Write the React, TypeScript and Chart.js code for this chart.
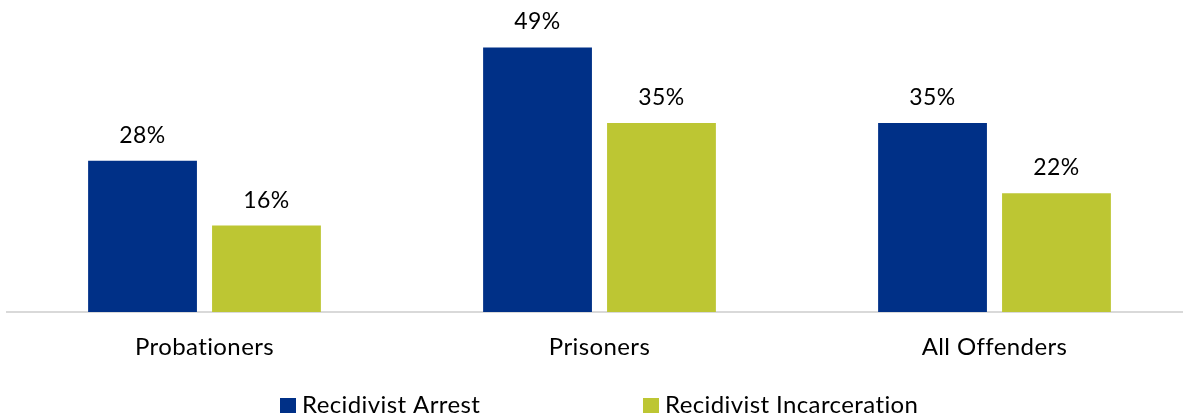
import React, { useEffect, useRef } from "react";
import { Chart, registerables } from "chart.js";

Chart.register(...registerables);

const categories = ["Probationers", "Prisoners", "All Offenders"];
const seriesNames = ["Recidivist Arrest", "Recidivist Incarceration"];
const arrestValues = [28, 49, 35];
const incarcerationValues = [16, 35, 22];
const seriesColors = ["#003087", "#BDC633"];

const FONT = "Lato, 'Open Sans', sans-serif";
const SPACING = "0.4px";

export default function App() {
  const ref = useRef<HTMLCanvasElement | null>(null);

  useEffect(() => {
    document.body.style.margin = "0";
    const canvas = ref.current;
    if (!canvas) return;

    const spacingPlugin = {
      id: "spacing",
      beforeDraw(chart: any) {
        chart.ctx.letterSpacing = SPACING;
      },
    };

    const labelPlugin = {
      id: "valueLabels",
      afterDatasetsDraw(chart: any) {
        const ctx = chart.ctx;
        ctx.save();
        ctx.letterSpacing = SPACING;
        ctx.font = `23px ${FONT}`;
        ctx.fillStyle = "#000000";
        ctx.textAlign = "center";
        ctx.textBaseline = "alphabetic";
        chart.data.datasets.forEach((ds: any, i: number) => {
          const meta = chart.getDatasetMeta(i);
          meta.data.forEach((bar: any, j: number) => {
            ctx.fillText(`${ds.data[j]}%`, bar.x, bar.y - 18);
          });
        });
        ctx.restore();
      },
    };

    const legendPlugin = {
      id: "customLegend",
      afterDraw(chart: any) {
        const ctx = chart.ctx;
        ctx.save();
        ctx.letterSpacing = SPACING;
        ctx.font = `24px ${FONT}`;
        ctx.textBaseline = "alphabetic";
        ctx.textAlign = "left";
        const positions = [280, 643];
        chart.data.datasets.forEach((ds: any, i: number) => {
          const x = positions[i];
          ctx.fillStyle = ds.backgroundColor;
          ctx.fillRect(x, 398, 16, 15);
          ctx.fillStyle = "#000000";
          ctx.fillText(ds.label, x + 22, 413);
        });
        ctx.restore();
      },
    };

    const chart = new Chart(canvas, {
      type: "bar",
      data: {
        labels: categories,
        datasets: [
          {
            label: seriesNames[0],
            data: arrestValues,
            backgroundColor: seriesColors[0],
            categoryPercentage: 0.6276,
            barPercentage: 0.878,
          },
          {
            label: seriesNames[1],
            data: incarcerationValues,
            backgroundColor: seriesColors[1],
            categoryPercentage: 0.6276,
            barPercentage: 0.878,
          },
        ],
      },
      options: {
        responsive: false,
        animation: false,
        layout: { padding: { top: 42, left: 7, right: 0, bottom: 0 } },
        plugins: {
          legend: { display: false },
          tooltip: { enabled: false },
        },
        scales: {
          x: {
            grid: { display: false, drawTicks: false },
            border: { display: true, color: "#d9d9d9", width: 2 },
            ticks: {
              color: "#000000",
              font: { family: FONT, size: 24 },
              padding: 21,
            },
            afterFit: (s: any) => {
              s.height = 107;
            },
          },
          y: {
            display: false,
            min: 0,
            max: 50,
          },
        },
      },
      plugins: [spacingPlugin, labelPlugin, legendPlugin],
    });

    return () => chart.destroy();
  }, []);

  return (
    <div style={{ width: 1183, height: 419, overflow: "hidden", position: "relative" }}>
      <canvas ref={ref} width={1192} height={419} style={{ display: "block" }} />
    </div>
  );
}
